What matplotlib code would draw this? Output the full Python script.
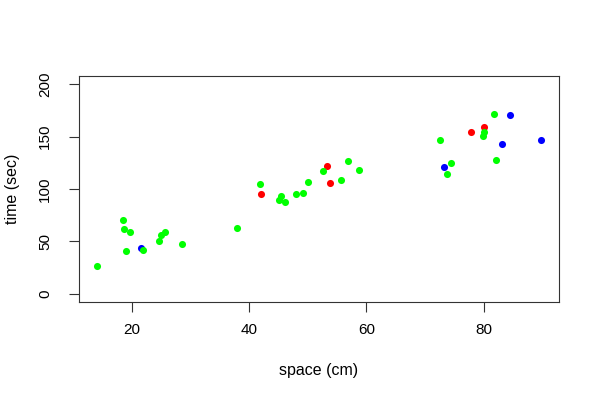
import matplotlib
matplotlib.use("Agg")
import matplotlib.pyplot as plt

plt.rcParams['font.family'] = ['Liberation Sans', 'DejaVu Sans']

# green group
green_x = [14.0, 18.4, 18.6, 19.7, 18.9, 21.8, 24.9, 25.7, 24.6, 28.6,
           37.9, 41.8, 45.0, 45.5, 46.1, 48.0, 49.2, 50.1, 52.6, 55.6,
           56.8, 58.7, 72.6, 80.0, 79.8, 81.8, 82.1, 74.4, 73.8]
green_y = [26.3, 70.4, 61.3, 58.8, 41.1, 41.5, 56.5, 58.8, 50.4, 47.2,
           62.3, 104.8, 89.7, 93.2, 87.4, 95.1, 95.8, 107.1, 117.0, 108.3,
           126.9, 118.3, 147.2, 154.9, 150.5, 171.7, 127.9, 125.0, 114.4]
# red group
red_x = [42.0, 53.2, 53.8, 77.9, 80.1]
red_y = [95.5, 122.1, 105.7, 154.9, 159.7]
# blue group
blue_x = [21.5, 84.4, 83.1, 89.8, 73.2]
blue_y = [43.7, 170.4, 143.1, 146.9, 121.2]

xticks = [20, 40, 60, 80]
yticks = [0, 50, 100, 150, 200]

fig = plt.figure(figsize=(6, 4), dpi=100)
ax = fig.add_axes([79/600, 1 - 302/400, 480/600, 226/400])

ms = 26
ax.scatter(blue_x, blue_y, s=ms, c='#0000FF', linewidths=0, zorder=3)
ax.scatter(red_x, red_y, s=ms, c='#FF0000', linewidths=0, zorder=3)
ax.scatter(green_x, green_y, s=ms, c='#00FF00', linewidths=0, zorder=3)

allx = green_x + red_x + blue_x
xmin, xmax = min(allx), max(allx)
dx = (xmax - xmin) * 0.04
ax.set_xlim(xmin - dx, xmax + dx)
ax.set_ylim(0 - 200 * 0.04, 200 + 200 * 0.04)

ax.set_xticks(xticks)
ax.set_yticks(yticks)
ax.set_yticklabels([str(v) for v in yticks], rotation=90, va='center')
ax.tick_params(axis='both', length=7.2, width=0.8, color='#333333', labelsize=11)
ax.tick_params(axis='x', pad=8)
ax.tick_params(axis='y', pad=12)
for sp in ax.spines.values():
    sp.set_linewidth(0.8)
    sp.set_color('#333333')

ax.set_xlabel('space (cm)', fontsize=11.5, va='center')
ax.set_ylabel('time (sec)', fontsize=11.5, va='center')
ax.xaxis.set_label_coords(0.5, -(371 - 302) / 226)
ax.yaxis.set_label_coords(-(79 - 12.5) / 480, 0.5)

fig.savefig('out.png', dpi=100)
